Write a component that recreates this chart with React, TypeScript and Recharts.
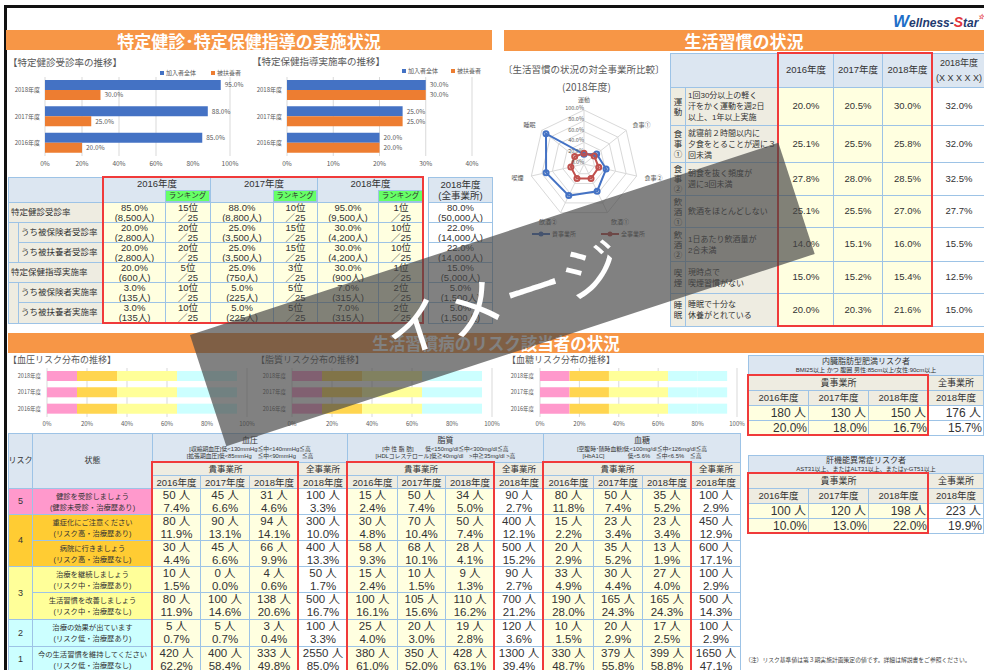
import React from 'react';
import {
  BarChart, Bar, XAxis, YAxis, CartesianGrid, LabelList,
  RadarChart, Radar, PolarGrid, PolarAngleAxis, PolarRadiusAxis,
} from 'recharts';

const FONT = '"Noto Sans CJK JP","Noto Sans",sans-serif';
const NUMFONT = '"Liberation Sans","Noto Sans CJK JP",sans-serif';
const ORANGE = '#F79646';
const BLUE = '#4472C4';
const ORG = '#ED7D31';
const RED = '#C0504D';
const HEAD = '#DCE6F1';
const LABEL = '#EEECE1';
const CELL = '#FFFFE0';
const BORDER = '#9DC3E6';
const REDBOX = '#F03A3A';
const GRID = '#D9D9D9';
const TXT = '#595959';

// ---- bar charts (top) ----
const yearCats = ['2018年度', '2017年度', '2016年度'];
const checkupAll = [95, 88, 85];
const checkupDep = [30, 25, 20];
const guideAll = [30, 25, 20];
const guideDep = [30, 25, 20];
const ticks100 = [0, 20, 40, 60, 80, 100];
const ticks40 = [0, 10, 20, 30, 40];

// ---- radar ----
const habitAxes = ['運動', '食事①', '食事②', '飲酒①', '飲酒②', '喫煙', '睡眠'];
const habitOwn = [18, 30, 42, 56, 65, 72, 90];
const habitAllCo = [20, 24, 28, 30, 30, 25, 22];
const radarTicks = [0, 20, 40, 60, 80, 100];

// ---- risk distributions (rows: 2018, 2017, 2016; cols: risk5..risk1) ----
const riskKeys = ['r5', 'r4', 'r3', 'r2', 'r1'];
const riskBarColors = ['#FF99CC', '#FFD54F', '#FFFF99', '#CCFFFF', '#CCFFFF'];
const bpDist = [[15, 20, 30, 15, 15], [15, 20, 30, 15, 15], [15, 20, 30, 15, 15]];
const lipidDist = [[15, 20, 30, 15, 15], [15, 20, 30, 15, 15], [15, 20, 30, 15, 15]];
const glucoseDist = [[15, 20, 30, 15, 15], [15, 20, 30, 15, 15], [15, 20, 30, 15, 15]];

// ---- table 1 ----
const t1Years = ['2016年度', '2017年度', '2018年度'];
const t1Labels = ['特定健診受診率', 'うち被保険者受診率', 'うち被扶養者受診率', '特定保健指導実施率', 'うち被保険者実施率', 'うち被扶養者実施率'];
const t1Indent = [false, true, true, false, true, true];
const t1Rate = [['85.0%', '88.0%', '95.0%'], ['20.0%', '25.0%', '30.0%'], ['20.0%', '25.0%', '30.0%'], ['20.0%', '25.0%', '30.0%'], ['3.0%', '5.0%', '7.0%'], ['3.0%', '5.0%', '7.0%']];
const t1Count = [['8,500人', '8,800人', '9,500人'], ['2,800人', '3,500人', '4,200人'], ['2,800人', '3,500人', '4,200人'], ['600人', '750人', '900人'], ['135人', '225人', '315人'], ['135人', '225人', '315人']];
const t1Rank = [['15位', '10位', '1位'], ['20位', '15位', '10位'], ['20位', '15位', '10位'], ['5位', '3位', '1位'], ['10位', '5位', '2位'], ['10位', '5位', '2位']];
const t1AllRate = ['80.0%', '22.0%', '22.0%', '15.0%', '5.0%', '5.0%'];
const t1AllCount = ['50,000人', '14,000人', '14,000人', '5,000人', '1,500人', '1,500人'];

// ---- habit table ----
const habitDescs = ['1回30分以上の軽く\n汗をかく運動を週2日\n以上、1年以上実施', '就寝前２時間以内に\n夕食をとることが週に３\n回未満', '朝食を抜く頻度が\n週に3回未満', '飲酒をほとんどしない', '1日あたり飲酒量が\n2合未満', '現時点で\n喫煙習慣がない', '睡眠で十分な\n休養がとれている'];
const habit2016 = ['20.0%', '25.1%', '27.8%', '25.1%', '14.0%', '15.0%', '20.0%'];
const habit2017 = ['20.5%', '25.5%', '28.0%', '25.5%', '15.1%', '15.2%', '20.3%'];
const habit2018 = ['30.0%', '25.8%', '28.5%', '27.0%', '16.0%', '15.4%', '21.6%'];
const habitTotal = ['32.0%', '32.0%', '32.5%', '27.7%', '15.5%', '12.5%', '15.0%'];

// ---- risk table ----
const riskLevelLabels = ['5', '4', '3', '2', '1'];
const riskTableColors = ['#FF99CC', '#FFCC33', '#FFFF99', '#CCFFFF', '#CCFFFF'];
const stateTexts = ['健診を受診しましょう\n(健診未受診・治療歴あり)', '重症化にご注意ください\n(リスク高・治療歴あり)', '病院に行きましょう\n(リスク高・治療歴なし)', '治療を継続しましょう\n(リスク中・治療歴あり)', '生活習慣を改善しましょう\n(リスク中・治療歴なし)', '治療の効果が出ています\n(リスク低・治療歴あり)', '今の生活習慣を維持してください\n(リスク低・治療歴なし)'];
const stateLevel = [0, 1, 1, 2, 2, 3, 4];
const bpCounts = [[50, 45, 31, 100], [80, 90, 94, 300], [30, 45, 66, 400], [10, 0, 4, 50], [80, 100, 138, 500], [5, 5, 3, 100], [420, 400, 333, 2550]];
const bpPcts = [[7.4, 6.6, 4.6, 3.3], [11.9, 13.1, 14.1, 10.0], [4.4, 6.6, 9.9, 13.3], [1.5, 0.0, 0.6, 1.7], [11.9, 14.6, 20.6, 16.7], [0.7, 0.7, 0.4, 3.3], [62.2, 58.4, 49.8, 85.0]];
const lipidCounts = [[15, 50, 34, 90], [30, 70, 50, 400], [58, 68, 28, 500], [15, 10, 9, 90], [100, 105, 110, 700], [25, 20, 19, 120], [380, 350, 428, 1300]];
const lipidPcts = [[2.4, 7.4, 5.0, 2.7], [4.8, 10.4, 7.4, 12.1], [9.3, 10.1, 4.1, 15.2], [2.4, 1.5, 1.3, 2.7], [16.1, 15.6, 16.2, 21.2], [4.0, 3.0, 2.8, 3.6], [61.0, 52.0, 63.1, 39.4]];
const glucoseCounts = [[80, 50, 35, 100], [15, 23, 23, 450], [20, 35, 13, 600], [33, 30, 27, 100], [190, 165, 165, 500], [10, 20, 17, 100], [330, 379, 399, 1650]];
const glucosePcts = [[11.8, 7.4, 5.2, 2.9], [2.2, 3.4, 3.4, 12.9], [2.9, 5.2, 1.9, 17.1], [4.9, 4.4, 4.0, 2.9], [28.0, 24.3, 24.3, 14.3], [1.5, 2.9, 2.5, 2.9], [48.7, 55.8, 58.8, 47.1]];
const groupTitles = ['血圧', '脂質', '血糖'];
const groupCriteria = [
  ['[収縮期血圧]低<130mmHg≦中<140mmHg≦高', '[拡張期血圧]低<85mmHg　≦中<90mmHg　≦高'],
  ['[中 性 脂 肪]　　低<150mg/dl≦中<300mg/dl≦高', '[HDLコレステロール]低≧40mg/dl　>中≧35mg/dl >高'],
  ['[空腹時･随時血糖]低<100mg/dl≦中<126mg/dl≦高', '[HbA1C]　　　　低<5.6%　≦中<6.5%　≦高'],
];
const colYears = ['2016年度', '2017年度', '2018年度', '2018年度'];

// ---- obesity / liver ----
const obCounts = [180, 130, 150, 176];
const obPcts = [20.0, 18.0, 16.7, 15.7];
const liverCounts = [100, 120, 198, 223];
const liverPcts = [10.0, 13.0, 22.0, 19.9];

type BoxProps = {
  x: number; y: number; w: number; h: number; bg?: string; bc?: string;
  children?: React.ReactNode; fs?: number; align?: 'left' | 'center' | 'right';
  color?: string; lh?: number; pad?: number; top?: boolean; style?: React.CSSProperties;
};
function Box({ x, y, w, h, bg = 'transparent', bc = BORDER, children, fs = 9, align = 'center', color = '#333', lh, pad = 0, top = false, style }: BoxProps) {
  return (
    <div style={{
      position: 'absolute', left: x, top: y, width: w + 1, height: h + 1, boxSizing: 'border-box',
      border: `1px solid ${bc}`, background: bg, fontSize: fs, color, fontFamily: NUMFONT,
      display: 'flex', flexDirection: 'column', justifyContent: top ? 'flex-start' : 'center',
      alignItems: align === 'left' ? 'flex-start' : align === 'right' ? 'flex-end' : 'center',
      textAlign: align, lineHeight: lh ? `${lh}px` : 1.15, padding: `0 ${pad}px`, overflow: 'visible', whiteSpace: 'pre',
      ...style,
    }}>{children}</div>
  );
}
function RedBox({ x, y, w, h }: { x: number; y: number; w: number; h: number }) {
  return <div style={{ position: 'absolute', left: x - 1, top: y - 1, width: w + 2, height: h + 2, border: `2px solid ${REDBOX}`, boxSizing: 'border-box', zIndex: 3 }} />;
}
function Txt({ x, y, fs, children, color = TXT, style }: { x: number; y: number; fs: number; children: React.ReactNode; color?: string; style?: React.CSSProperties }) {
  return <div style={{ position: 'absolute', left: x, top: y, fontSize: fs, color, whiteSpace: 'nowrap', lineHeight: 1, ...style }}>{children}</div>;
}
function Banner({ x, y, w, h, text, fs }: { x: number; y: number; w: number; h: number; text: string; fs: number }) {
  return <div style={{ position: 'absolute', left: x, top: y, width: w, height: h, background: ORANGE, color: '#fff', fontWeight: 700, fontSize: fs, display: 'flex', alignItems: 'center', justifyContent: 'center', lineHeight: 1 }}>{text}</div>;
}
function LegendSq({ x, y, color, label }: { x: number; y: number; color: string; label: string }) {
  return (
    <div style={{ position: 'absolute', left: x, top: y, display: 'flex', alignItems: 'center', fontSize: 6, color: TXT, lineHeight: 1 }}>
      <span style={{ display: 'inline-block', width: 4, height: 4, background: color, marginRight: 2 }} />{label}
    </div>
  );
}

function HBar({ left, top, width, height, yw, mr, all, dep, ticks, max }: any) {
  const data = yearCats.map((y, i) => ({ year: y, all: all[i], dep: dep[i] }));
  const fmt = (v: any) => `${Number(v).toFixed(1)}%`;
  return (
    <div style={{ position: 'absolute', left, top, width, height }}>
      <BarChart width={width} height={height} data={data} layout="vertical" barGap={0} margin={{ top: 7, right: mr, bottom: 0, left: 0 }}>
        <CartesianGrid horizontal={false} stroke={GRID} />
        <XAxis type="number" domain={[0, max]} ticks={ticks} tickFormatter={(v: number) => `${v}%`} axisLine={false} tickLine={false} tickSize={3} height={19} tick={{ fontSize: 6.5, fill: TXT }} />
        <YAxis type="category" dataKey="year" width={yw} axisLine={false} tickLine={false} tickSize={3} tick={{ fontSize: 6, fill: TXT }} />
        <Bar dataKey="all" fill={BLUE} barSize={10} isAnimationActive={false}>
          <LabelList dataKey="all" position="right" offset={4} formatter={fmt} fontSize={6.5} fill={TXT} />
        </Bar>
        <Bar dataKey="dep" fill={ORG} barSize={10} isAnimationActive={false}>
          <LabelList dataKey="dep" position="right" offset={4} formatter={fmt} fontSize={6.5} fill={TXT} />
        </Bar>
      </BarChart>
    </div>
  );
}

function RiskDist({ left, width, yw, dist }: any) {
  const data = yearCats.map((y, i) => {
    const row: any = { year: y };
    riskKeys.forEach((k, j) => { row[k] = dist[i][j]; });
    return row;
  });
  return (
    <div style={{ position: 'absolute', left, top: 360, width, height: 75 }}>
      <BarChart width={width} height={75} data={data} layout="vertical" margin={{ top: 8, right: 8, bottom: 0, left: 0 }}>
        <CartesianGrid horizontal={false} stroke={GRID} />
        <XAxis type="number" domain={[0, 100]} ticks={ticks100} tickFormatter={(v: number) => `${v}%`} axisLine={false} tickLine={false} tickSize={3} height={18} tick={{ fontSize: 6, fill: TXT }} />
        <YAxis type="category" dataKey="year" width={yw} axisLine={false} tickLine={false} tickSize={4} tick={{ fontSize: 5.5, fill: TXT }} />
        {riskKeys.map((k, j) => (
          <Bar key={k} dataKey={k} stackId="s" fill={riskBarColors[j]} barSize={10} isAnimationActive={false} />
        ))}
      </BarChart>
    </div>
  );
}

function HabitRadar() {
  const data = habitAxes.map((a, i) => ({ axis: a, own: habitOwn[i], all: habitAllCo[i] }));
  return (
    <div style={{ position: 'absolute', left: 500, top: 95, width: 170, height: 135 }}>
      <RadarChart width={170} height={135} data={data} cx={84} cy={69} outerRadius={54} margin={{ top: 0, right: 0, bottom: 0, left: 0 }}>
        <PolarGrid gridType="polygon" stroke={GRID} />
        <PolarAngleAxis dataKey="axis" tick={{ fontSize: 6, fill: TXT }} tickLine={false} />
        <PolarRadiusAxis type="number" angle={90} domain={[0, 100]} ticks={radarTicks} orientation="left" axisLine={false} tickLine={false} tick={{ fontSize: 5.5, fill: TXT }} tickFormatter={(v: number) => `${v.toFixed(1)}%`} />
        <Radar dataKey="own" stroke={BLUE} strokeWidth={2} fill="none" fillOpacity={0} dot={{ r: 2.5, fill: BLUE, stroke: BLUE }} isAnimationActive={false} />
        <Radar dataKey="all" stroke={RED} strokeWidth={2} fill="none" fillOpacity={0} dot={{ r: 2.5, fill: RED, stroke: RED }} isAnimationActive={false} />
      </RadarChart>
    </div>
  );
}

function Table1() {
  const valX = [103, 210, 317];
  const valW = [62, 63, 61];
  const rankX = [165, 273, 378];
  const rankW = [45, 44, 45];
  const rowY = [202, 222, 242, 262, 282, 302];
  const rowH = [20, 20, 20, 20, 20, 21];
  const out: React.ReactNode[] = [];
  out.push(<Box key="h0" x={8} y={177} w={95} h={25} bg={HEAD} />);
  t1Years.forEach((yr, g) => {
    out.push(<Box key={'hy' + g} x={valX[g]} y={177} w={valW[g] + rankW[g]} h={25} bg={HEAD} fs={9.5} top style={{ paddingTop: 1 }}>{yr}</Box>);
    out.push(<Box key={'hr' + g} x={rankX[g]} y={190} w={rankW[g] - 1} h={11} bg="#66FF66" fs={7.5}>ランキング</Box>);
  });
  out.push(<Box key="hall" x={428} y={177} w={64} h={25} bg={HEAD} fs={9.5} lh={11}>{'2018年度\n(全事業所)'}</Box>);
  out.push(<Box key="s1" x={8} y={222} w={10} h={40} bg={LABEL} />);
  out.push(<Box key="s2" x={8} y={282} w={10} h={41} bg={LABEL} />);
  t1Labels.forEach((lab, r) => {
    const y = rowY[r]; const h = rowH[r];
    const lx = t1Indent[r] ? 18 : 8;
    out.push(<Box key={'l' + r} x={lx} y={y} w={103 - lx} h={h} bg={LABEL} fs={8.5} align="left" pad={2}>{lab}</Box>);
    for (let g = 0; g < 3; g++) {
      out.push(<Box key={`v${r}-${g}`} x={valX[g]} y={y} w={valW[g]} h={h} bg={CELL} fs={9.5} lh={10}>{`${t1Rate[r][g]}\n(${t1Count[r][g]})`}</Box>);
      out.push(<Box key={`k${r}-${g}`} x={rankX[g]} y={y} w={rankW[g]} h={h} bg={CELL} fs={9.5} lh={10}>{`${t1Rank[r][g]}\n／25`}</Box>);
    }
    out.push(<Box key={'a' + r} x={428} y={y} w={64} h={h} bg="#fff" fs={9.5} lh={10}>{`${t1AllRate[r]}\n(${t1AllCount[r]})`}</Box>);
  });
  out.push(<RedBox key="rb" x={103} y={177} w={320} h={146} />);
  return <>{out}</>;
}

function HabitTable() {
  const ys = [87, 125, 162, 195, 227, 261, 293, 326];
  const vx = [778, 833, 882];
  const vw = [55, 49, 50];
  const vals = [habit2016, habit2017, habit2018];
  const out: React.ReactNode[] = [];
  out.push(<Box key="h" x={670} y={53} w={108} h={34} bg={HEAD} />);
  t1Years.forEach((yr, g) => out.push(<Box key={'hy' + g} x={vx[g]} y={53} w={vw[g]} h={34} bg={HEAD} fs={9.5}>{yr}</Box>));
  out.push(<Box key="ht" x={932} y={53} w={52} h={34} bg={HEAD} fs={9} lh={15} style={{ borderRight: 'none' }}>{'2018年度\n(X X X X X)'}</Box>);
  habitAxes.forEach((cat, i) => {
    const y = ys[i]; const h = ys[i + 1] - ys[i];
    out.push(<Box key={'c' + i} x={670} y={y} w={15} h={h} bg={LABEL} fs={8.5} lh={10}>{cat.split('').join('\n')}</Box>);
    out.push(<Box key={'d' + i} x={685} y={y} w={93} h={h} bg={LABEL} fs={8} lh={11} align="left" pad={2}>{habitDescs[i]}</Box>);
    vals.forEach((arr, g) => out.push(<Box key={`v${i}-${g}`} x={vx[g]} y={y} w={vw[g]} h={h} bg={CELL} fs={9.5}>{arr[i]}</Box>));
    out.push(<Box key={'t' + i} x={932} y={y} w={52} h={h} bg="#fff" fs={9.5} style={{ borderRight: 'none' }}>{habitTotal[i]}</Box>);
  });
  out.push(<RedBox key="rb" x={778} y={53} w={154} h={273} />);
  return <>{out}</>;
}

function RiskTable() {
  const cols = [8, 32, 152, 200, 249, 298, 347, 397, 445, 494, 543, 593, 642, 691, 740];
  const dataY = [488, 514, 540, 566, 592, 619, 646, 672];
  const levelY = [[488, 26], [514, 52], [566, 53], [619, 27], [646, 26]];
  const counts = [bpCounts, lipidCounts, glucoseCounts];
  const pcts = [bpPcts, lipidPcts, glucosePcts];
  const out: React.ReactNode[] = [];
  out.push(<Box key="hr" x={8} y={433} w={24} h={55} bg={HEAD} fs={8}>リスク</Box>);
  out.push(<Box key="hs" x={32} y={433} w={120} h={55} bg={HEAD} fs={8}>状態</Box>);
  for (let g = 0; g < 3; g++) {
    const gx = cols[2 + 4 * g]; const gEnd = cols[6 + 4 * g]; const mid = cols[5 + 4 * g];
    out.push(
      <Box key={'g' + g} x={gx} y={433} w={gEnd - gx} h={29} bg={HEAD} fs={5.8} lh={7}>
        <span style={{ fontSize: 8, lineHeight: '10px' }}>{groupTitles[g]}</span>
        {groupCriteria[g][0]}{'\n'}{groupCriteria[g][1]}
      </Box>
    );
    out.push(<Box key={'gk' + g} x={gx} y={462} w={mid - gx} h={13} bg={LABEL} fs={8.5} lh={11}>貴事業所</Box>);
    out.push(<Box key={'ga' + g} x={mid} y={462} w={gEnd - mid} h={13} bg={LABEL} fs={8.5} lh={11}>全事業所</Box>);
    for (let c = 0; c < 4; c++) {
      const cx = cols[2 + 4 * g + c]; const cw = cols[3 + 4 * g + c] - cx;
      out.push(<Box key={`gy${g}-${c}`} x={cx} y={475} w={cw} h={13} bg={LABEL} fs={9.5} lh={11}>{colYears[c]}</Box>);
    }
  }
  riskLevelLabels.forEach((lv, i) => {
    out.push(<Box key={'lv' + i} x={8} y={levelY[i][0]} w={24} h={levelY[i][1]} bg={riskTableColors[i]} fs={9}>{lv}</Box>);
  });
  stateTexts.forEach((st, r) => {
    const y = dataY[r]; const h = dataY[r + 1] - y;
    out.push(<Box key={'st' + r} x={32} y={y} w={120} h={h} bg={riskTableColors[stateLevel[r]]} fs={7.3} lh={11}>{st}</Box>);
    for (let g = 0; g < 3; g++) {
      for (let c = 0; c < 4; c++) {
        const cx = cols[2 + 4 * g + c]; const cw = cols[3 + 4 * g + c] - cx;
        out.push(
          <Box key={`d${r}-${g}-${c}`} x={cx} y={y} w={cw} h={h} bg={c === 3 ? '#fff' : CELL} fs={11.5} lh={13}>
            {`${counts[g][r][c]} 人\n${pcts[g][r][c].toFixed(1)}%`}
          </Box>
        );
      }
    }
  });
  for (let g = 0; g < 3; g++) {
    const gx = cols[2 + 4 * g]; const mid = cols[5 + 4 * g];
    out.push(<RedBox key={'rb' + g} x={gx} y={462} w={mid - gx} h={220} />);
  }
  return <>{out}</>;
}

function SmallRiskTable({ top, title, sub, counts, pcts, titleH }: any) {
  const xs = [748, 808, 868, 928];
  const ws = [60, 60, 60, 55];
  const out: React.ReactNode[] = [];
  out.push(
    <Box key="t" x={748} y={top} w={235} h={titleH} bg={HEAD} fs={8} lh={9}>
      {title}
      <span style={{ fontSize: 6, lineHeight: '8px' }}>{sub}</span>
    </Box>
  );
  const y1 = top + titleH;
  out.push(<Box key="k" x={748} y={y1} w={180} h={15} bg={LABEL} fs={9}>貴事業所</Box>);
  out.push(<Box key="a" x={928} y={y1} w={55} h={15} bg={LABEL} fs={9}>全事業所</Box>);
  xs.forEach((x, c) => {
    out.push(<Box key={'y' + c} x={x} y={y1 + 15} w={ws[c]} h={15} bg={LABEL} fs={9.5}>{colYears[c]}</Box>);
    out.push(<Box key={'c' + c} x={x} y={y1 + 30} w={ws[c]} h={15} bg={c === 3 ? '#fff' : CELL} fs={12} lh={14} align="right" pad={2}>{`${counts[c]} 人`}</Box>);
    out.push(<Box key={'p' + c} x={x} y={y1 + 45} w={ws[c]} h={15} bg={c === 3 ? '#fff' : CELL} fs={12} lh={14} align="right" pad={1}>{`${pcts[c].toFixed(1)}%`}</Box>);
  });
  out.push(<RedBox key="rb" x={748} y={y1} w={180} h={60} />);
  return <>{out}</>;
}

function RadarLegendItem({ x, color, label }: { x: number; color: string; label: string }) {
  return (
    <div style={{ position: 'absolute', left: x, top: 231, display: 'flex', alignItems: 'center', fontSize: 6, color: TXT, lineHeight: 1 }}>
      <svg width={18} height={6} style={{ marginRight: 2 }}>
        <line x1={0} y1={3} x2={18} y2={3} stroke={color} strokeWidth={2} />
        <circle cx={9} cy={3} r={2.5} fill={color} />
      </svg>
      {label}
    </div>
  );
}

export default function App() {
  return (
    <div style={{ position: 'absolute', left: 0, top: 0, width: 984, height: 670, overflow: 'hidden', background: '#fff', fontFamily: FONT, color: '#333' }}>
      {/* frame */}
      <div style={{ position: 'absolute', left: 4, top: 5, width: 980, height: 3, background: '#111' }} />
      <div style={{ position: 'absolute', left: 4, top: 5, width: 3, height: 665, background: '#111' }} />
      {/* logo */}
      <div style={{ position: 'absolute', left: 893, top: 13, fontStyle: 'italic', fontWeight: 700, fontSize: 12, lineHeight: 1, whiteSpace: 'nowrap', fontFamily: '"Liberation Sans",Arial,sans-serif' }}>
        <span style={{ color: '#1E6FC8', fontSize: 17 }}>W</span>
        <span style={{ color: '#1F3A70' }}>ellness-</span>
        <span style={{ color: '#E2343C', fontSize: 14 }}>S</span>
        <span style={{ color: '#1F3A70' }}>tar</span>
        <span style={{ color: '#E2343C', fontSize: 7, verticalAlign: 'top' }}>☆</span>
      </div>

      <Banner x={6} y={30} w={486} h={20} text="特定健診･特定保健指導の実施状況" fs={17} />
      <Banner x={504} y={30} w={480} h={21} text="生活習慣の状況" fs={17} />
      <Banner x={8} y={333} w={976} h={20} text="生活習慣病のリスク該当者の状況" fs={16.5} />

      {/* top bar charts */}
      <Txt x={8} y={58} fs={9.5}>【特定健診受診率の推移】</Txt>
      <Txt x={252} y={57} fs={9.5}>【特定保健指導実施率の推移】</Txt>
      <LegendSq x={160} y={70} color={BLUE} label="加入者全体" />
      <LegendSq x={211} y={70} color={ORG} label="被扶養者" />
      <LegendSq x={402} y={68} color={BLUE} label="加入者全体" />
      <LegendSq x={451} y={68} color={ORG} label="被扶養者" />
      <HBar left={0} top={70} width={250} height={105} yw={45} mr={20} all={checkupAll} dep={checkupDep} ticks={ticks100} max={100} />
      <HBar left={245} top={70} width={250} height={105} yw={42} mr={23} all={guideAll} dep={guideDep} ticks={ticks40} max={40} />

      <Table1 />

      {/* radar */}
      <Txt x={503} y={65} fs={9.5}>〔生活習慣の状況の対全事業所比較〕</Txt>
      <Txt x={562} y={82} fs={10}>(2018年度)</Txt>
      <HabitRadar />
      <RadarLegendItem x={532} color={BLUE} label="貴事業所" />
      <RadarLegendItem x={601} color={RED} label="全事業所" />

      <HabitTable />

      {/* risk distributions */}
      <Txt x={8} y={355} fs={9}>【血圧リスク分布の推移】</Txt>
      <Txt x={256} y={355} fs={9}>【脂質リスク分布の推移】</Txt>
      <Txt x={507} y={355} fs={9}>【血糖リスク分布の推移】</Txt>
      <RiskDist left={0} width={255} yw={47} dist={bpDist} />
      <RiskDist left={245} width={255} yw={47} dist={lipidDist} />
      <RiskDist left={494} width={251} yw={46} dist={glucoseDist} />

      <RiskTable />
      <SmallRiskTable top={355} titleH={20} title="内臓脂肪型肥満リスク者" sub="BMI25以上 かつ 腹囲 男性:85cm以上/女性:90cm以上" counts={obCounts} pcts={obPcts} />
      <SmallRiskTable top={455} titleH={18} title="肝機能異常症リスク者" sub="AST31以上、またはALT31以上、またはγ-GT51以上" counts={liverCounts} pcts={liverPcts} />
      <Txt x={745} y={657} fs={5.8} color="#444">（注）リスク基準値は第３期実施計画策定の値です。詳細は解説書をご参照ください。</Txt>

      {/* overlay band */}
      <div style={{
        position: 'absolute', left: 190, top: 335, width: 619, height: 117, transformOrigin: '0 0', transform: 'rotate(-18.1deg)',
        background: 'rgba(70,70,70,0.68)', display: 'flex', alignItems: 'center', justifyContent: 'center', color: '#fff',
        fontSize: 60, lineHeight: 1, letterSpacing: 2, zIndex: 10, fontWeight: 400,
      }}>イメージ</div>
    </div>
  );
}
